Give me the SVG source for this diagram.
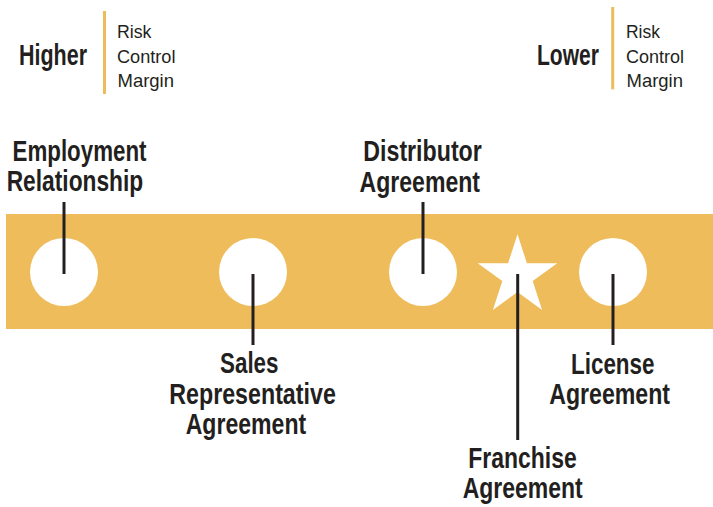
<svg xmlns="http://www.w3.org/2000/svg" width="713" height="507" viewBox="0 0 713 507">
  <style>
    .band { fill: #EEBC5B; }
    .dot { fill: #FFFFFF; }
    .rule { stroke: #EEBC5B; stroke-width: 3; }
    .lead { stroke: #231F20; stroke-width: 3; fill: none; }
    .lbl { font-family: "Liberation Sans", Arial, sans-serif; font-weight: bold; font-size: 29px; fill: #231F20; }
    .key { font-family: "Liberation Sans", Arial, sans-serif; font-size: 18.5px; fill: #231F20; }
  </style>
  <rect width="713" height="507" fill="#FFFFFF"/>

  <!-- legend -->
  <g id="legend-higher">
    <text class="lbl" x="19" y="65" textLength="68" lengthAdjust="spacingAndGlyphs">Higher</text>
    <line class="rule" x1="104.5" y1="11" x2="104.5" y2="94"/>
    <text class="key" x="117" y="37.7" textLength="34.5" lengthAdjust="spacingAndGlyphs">Risk</text>
    <text class="key" x="117" y="63.3" textLength="58.5" lengthAdjust="spacingAndGlyphs">Control</text>
    <text class="key" x="117.5" y="87.3" textLength="56.5" lengthAdjust="spacingAndGlyphs">Margin</text>
  </g>
  <g id="legend-lower">
    <text class="lbl" x="537" y="65" textLength="62" lengthAdjust="spacingAndGlyphs">Lower</text>
    <line class="rule" x1="612.7" y1="7" x2="612.7" y2="89.3"/>
    <text class="key" x="626" y="37.7" textLength="34" lengthAdjust="spacingAndGlyphs">Risk</text>
    <text class="key" x="626" y="63.3" textLength="58" lengthAdjust="spacingAndGlyphs">Control</text>
    <text class="key" x="626.5" y="87.3" textLength="56.5" lengthAdjust="spacingAndGlyphs">Margin</text>
  </g>

  <!-- scale band -->
  <rect class="band" x="6" y="214" width="707" height="115"/>

  <!-- markers on the band -->
  <g id="employment">
    <circle class="dot" cx="64" cy="272" r="34"/>
    <text class="lbl" x="12.5" y="160.5" textLength="134" lengthAdjust="spacingAndGlyphs">Employment</text>
    <text class="lbl" x="6.7" y="190.5" textLength="136.5" lengthAdjust="spacingAndGlyphs">Relationship</text>
  </g>
  <g id="sales-rep">
    <circle class="dot" cx="253" cy="272" r="34"/>
    <text class="lbl" x="220" y="373.3" textLength="58.5" lengthAdjust="spacingAndGlyphs">Sales</text>
    <text class="lbl" x="169.3" y="404" textLength="166.5" lengthAdjust="spacingAndGlyphs">Representative</text>
    <text class="lbl" x="185.7" y="434.3" textLength="120.5" lengthAdjust="spacingAndGlyphs">Agreement</text>
  </g>
  <g id="distributor">
    <circle class="dot" cx="423" cy="272" r="34"/>
    <text class="lbl" x="363.3" y="160.7" textLength="118.5" lengthAdjust="spacingAndGlyphs">Distributor</text>
    <text class="lbl" x="359.5" y="191.5" textLength="120.5" lengthAdjust="spacingAndGlyphs">Agreement</text>
  </g>
  <g id="franchise">
    <polygon class="dot" points="517.5,234.3 526.9,263.2 557.3,263.2 532.7,281 542.1,310 517.5,292.1 492.9,310 502.3,281 477.7,263.2 508.1,263.2"/>
    <text class="lbl" x="468.3" y="468.3" textLength="108.5" lengthAdjust="spacingAndGlyphs">Franchise</text>
    <text class="lbl" x="462.7" y="498.3" textLength="120" lengthAdjust="spacingAndGlyphs">Agreement</text>
  </g>
  <g id="license">
    <circle class="dot" cx="613" cy="272" r="34"/>
    <text class="lbl" x="571" y="374" textLength="83.5" lengthAdjust="spacingAndGlyphs">License</text>
    <text class="lbl" x="549.3" y="404" textLength="120.7" lengthAdjust="spacingAndGlyphs">Agreement</text>
  </g>

  <!-- leader lines -->
  <g id="connectors">
    <line class="lead" x1="64" y1="202" x2="64" y2="274"/>
    <line class="lead" x1="253" y1="274" x2="253" y2="345"/>
    <line class="lead" x1="423" y1="202" x2="423" y2="274"/>
    <line class="lead" x1="517.7" y1="274" x2="517.7" y2="440"/>
    <line class="lead" x1="613" y1="274" x2="613" y2="345"/>
  </g>
</svg>
